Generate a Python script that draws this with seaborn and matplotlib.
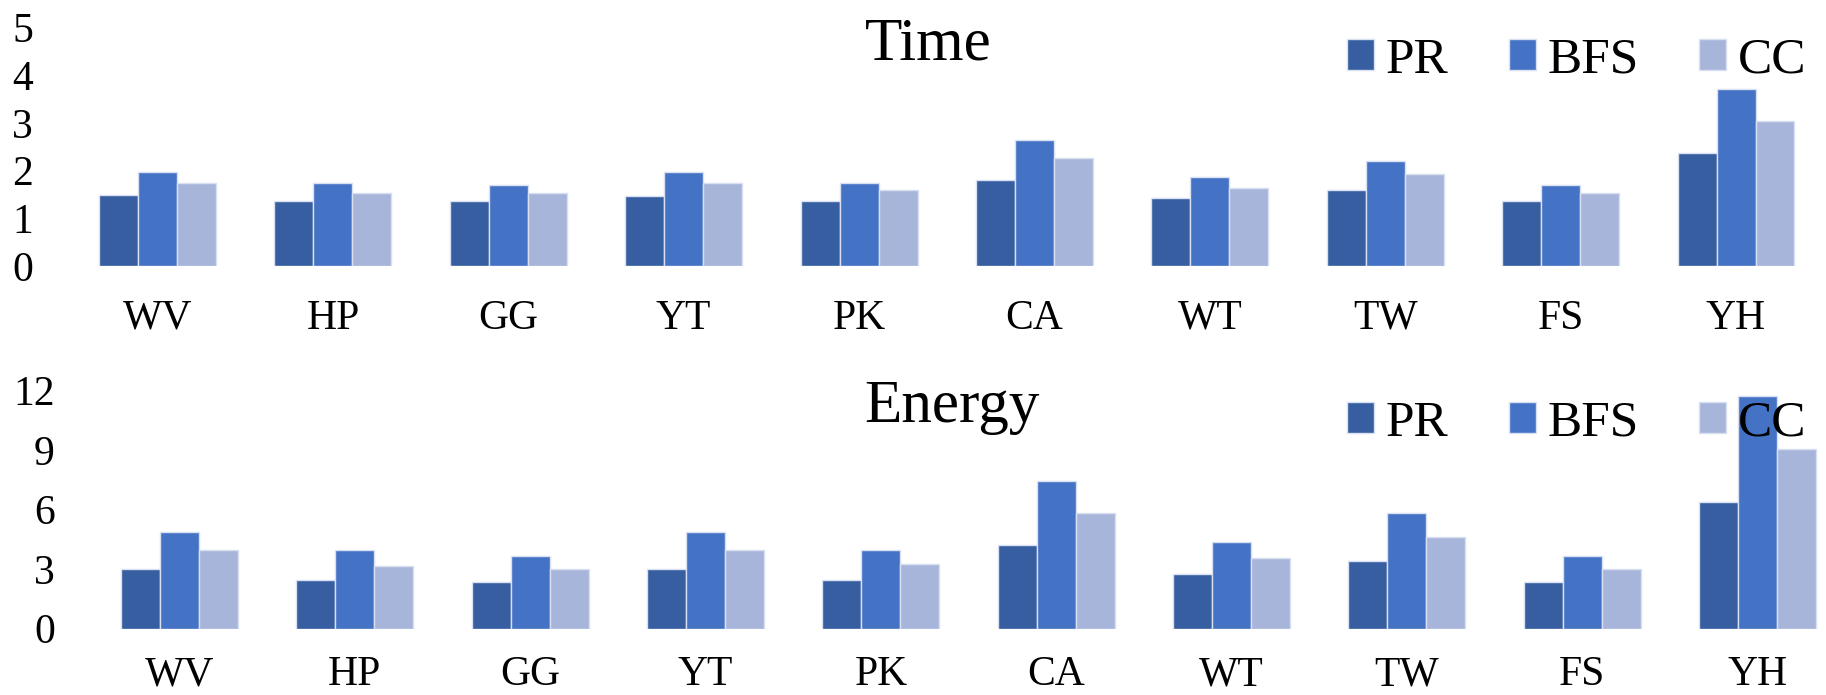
import matplotlib
matplotlib.use("Agg")
import matplotlib.pyplot as plt
import pandas as pd
import seaborn as sns

# Graph datasets and algorithms
categories = ["WV", "HP", "GG", "YT", "PK", "CA", "WT", "TW", "FS", "YH"]
series = ["PR", "BFS", "CC"]

# Normalised execution time
time_pr = [1.48, 1.36, 1.36, 1.47, 1.36, 1.81, 1.42, 1.59, 1.36, 2.37]
time_bfs = [1.98, 1.75, 1.70, 1.98, 1.75, 2.65, 1.87, 2.20, 1.70, 3.71]
time_cc = [1.75, 1.53, 1.53, 1.75, 1.59, 2.26, 1.64, 1.92, 1.53, 3.04]

# Normalised energy
energy_pr = [3.00, 2.47, 2.33, 3.00, 2.47, 4.21, 2.73, 3.41, 2.33, 6.36]
energy_bfs = [4.88, 3.94, 3.67, 4.88, 3.94, 7.43, 4.35, 5.82, 3.67, 11.73]
energy_cc = [3.94, 3.14, 3.00, 3.94, 3.27, 5.82, 3.54, 4.61, 3.00, 9.05]

time_ticks = [0, 1, 2, 3, 4, 5]
energy_ticks = [0, 3, 6, 9, 12]

colors = ["#365EA0", "#4472C4", "#A8B5DA"]

sns.set_theme(style="white")
plt.rcParams["font.family"] = ["Liberation Serif", "DejaVu Serif"]
plt.rcParams["text.color"] = "black"
plt.rcParams["xtick.color"] = "black"
plt.rcParams["ytick.color"] = "black"
plt.rcParams["xtick.labelcolor"] = "black"
plt.rcParams["ytick.labelcolor"] = "black"


def long_frame(pr, bfs, cc):
    rows = []
    for name, vals in zip(series, (pr, bfs, cc)):
        for cat, v in zip(categories, vals):
            rows.append({"graph": cat, "algo": name, "value": v})
    return pd.DataFrame(rows)


W, H = 1826, 695
fig = plt.figure(figsize=(W / 100, H / 100), dpi=100)


def px_axes(left, right, bottom, top):
    return fig.add_axes([left / W, 1 - bottom / H, (right - left) / W, (bottom - top) / H])


ax_t = px_axes(69.8, 1823.7, 266.0, 27.5)
ax_b = px_axes(91.8, 1845.2, 628.7, 390.4)

panels = [
    (ax_t, long_frame(time_pr, time_bfs, time_cc), "Time", time_ticks, 865, 59.3, 60.5, 24),
    (ax_b, long_frame(energy_pr, energy_bfs, energy_cc), "Energy", energy_ticks, 864, 422.0, 423.5, 19.5),
]

for ax, df, title, ticks, tx, ty, ly, xpad in panels:
    sns.barplot(
        data=df, x="graph", y="value", hue="algo",
        order=categories, hue_order=series, palette=colors,
        width=0.667, gap=0, errorbar=None, saturation=1,
        edgecolor="#D9E0F1", linewidth=1.0, ax=ax,
    )
    ax.set_xlim(-0.5, len(categories) - 0.5)
    ax.set_ylim(ticks[0], ticks[-1])
    ax.set_yticks(ticks)
    ax.set_yticklabels([str(t) for t in ticks])
    ax.set_xlabel("")
    ax.set_ylabel("")
    for s in ax.spines.values():
        s.set_visible(False)
    ax.tick_params(axis="y", length=0, pad=26.6, labelsize=30, labelcolor="black")
    ax.tick_params(axis="x", length=0, pad=xpad, labelsize=30, labelcolor="black")
    ax.grid(False)

    handles, labels = ax.get_legend_handles_labels()
    if ax.get_legend() is not None:
        ax.get_legend().remove()
    ax.legend(
        handles, labels, ncol=3, frameon=False, fontsize=37,
        loc="center left", bbox_to_anchor=(1347.3 / W, 1 - ly / H),
        bbox_transform=fig.transFigure, borderpad=0, borderaxespad=0,
        handlelength=0.525, handleheight=0.525, handletextpad=0.22,
        columnspacing=1.18, labelcolor="black",
    )

    fig.text(tx / W, 1 - ty / H, title, fontsize=44, ha="left", va="baseline", color="black")

fig.savefig("out.png", dpi=100)
